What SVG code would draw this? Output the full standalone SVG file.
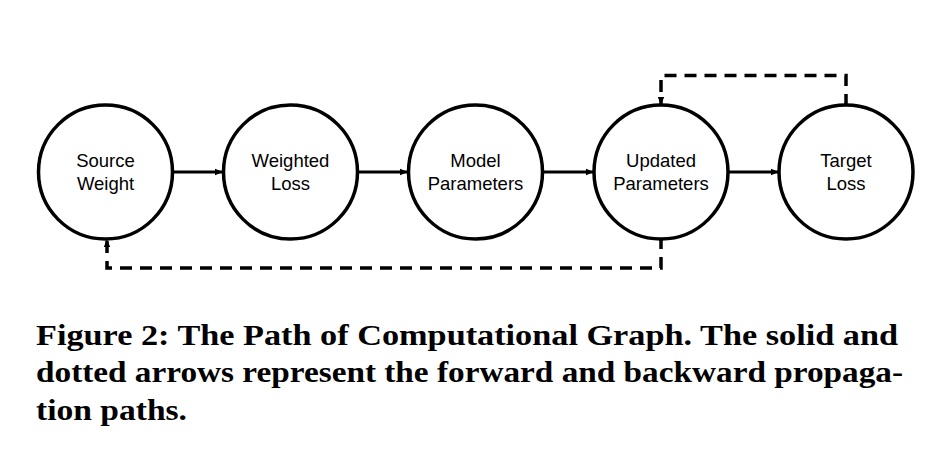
<svg xmlns="http://www.w3.org/2000/svg" width="937" height="460" viewBox="0 0 937 460">
<style>
.node{fill:#fff;stroke:#000;stroke-width:3.5}
.lbl{font-family:"Liberation Sans",Arial,sans-serif;font-size:18.5px;fill:#000;text-anchor:middle}
.solid{stroke:#000;stroke-width:3;fill:none}
.dash{stroke:#000;stroke-width:3.5;fill:none;stroke-dasharray:12 8}
.cap{font-family:"Liberation Serif","Times New Roman",serif;font-weight:bold;font-size:30px;fill:#000}
</style>
<defs>
<marker id="ah" markerUnits="userSpaceOnUse" markerWidth="8" markerHeight="8" viewBox="0 0 8 8" refX="8" refY="4" orient="auto">
<path d="M0,0.8 L8,4 L0,7.2 Z" fill="#000"/>
</marker>
</defs>
<rect width="937" height="460" fill="#fff"/>
<g id="connectors">
<line class="solid" x1="173" y1="172" x2="223" y2="172" marker-end="url(#ah)"/>
<line class="solid" x1="358" y1="172" x2="408" y2="172" marker-end="url(#ah)"/>
<line class="solid" x1="543" y1="172" x2="594" y2="172" marker-end="url(#ah)"/>
<line class="solid" x1="728" y1="172" x2="779" y2="172" marker-end="url(#ah)"/>
<path class="dash" d="M661,237 L661,268 L107,268 L107,239" marker-end="url(#ah)"/>
<path class="dash" d="M846,106 L846,75.5 L661,75.5 L661,105" marker-end="url(#ah)"/>
</g>
<g id="source-weight">
<circle class="node" cx="105.5" cy="172" r="67"/>
<text class="lbl" x="105.5" y="167">Source</text>
<text class="lbl" x="105.5" y="190">Weight</text>
</g>
<g id="weighted-loss">
<circle class="node" cx="290.5" cy="172" r="67"/>
<text class="lbl" x="290.5" y="167">Weighted</text>
<text class="lbl" x="290.5" y="190">Loss</text>
</g>
<g id="model-parameters">
<circle class="node" cx="475.5" cy="172" r="67"/>
<text class="lbl" x="475.5" y="167">Model</text>
<text class="lbl" x="475.5" y="190">Parameters</text>
</g>
<g id="updated-parameters">
<circle class="node" cx="661" cy="172" r="67"/>
<text class="lbl" x="661" y="167">Updated</text>
<text class="lbl" x="661" y="190">Parameters</text>
</g>
<g id="target-loss">
<circle class="node" cx="846" cy="172" r="67"/>
<text class="lbl" x="846" y="167">Target</text>
<text class="lbl" x="846" y="190">Loss</text>
</g>
<g id="caption">
<text class="cap" x="36" y="345" textLength="862" lengthAdjust="spacingAndGlyphs">Figure 2: The Path of Computational Graph. The solid and</text>
<text class="cap" x="36" y="382" textLength="867" lengthAdjust="spacingAndGlyphs">dotted arrows represent the forward and backward propaga-</text>
<text class="cap" x="36" y="420" textLength="151" lengthAdjust="spacingAndGlyphs">tion paths.</text>
</g>
</svg>
